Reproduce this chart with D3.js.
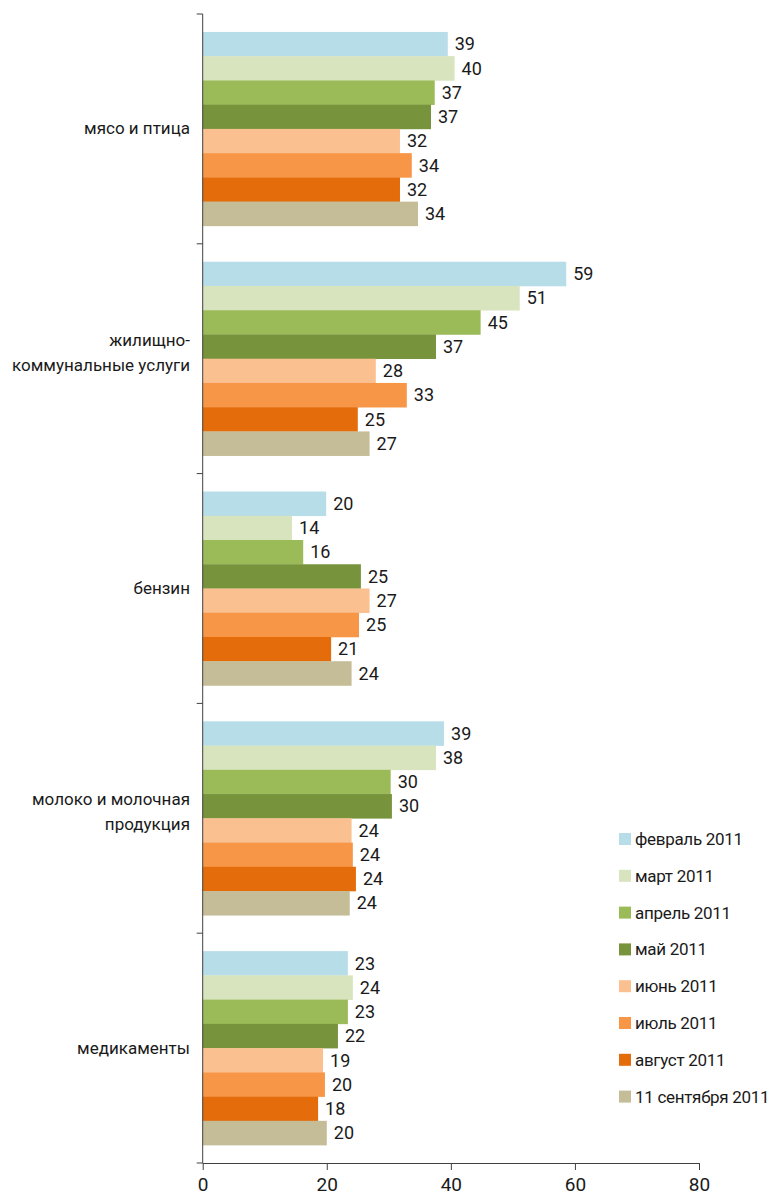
<!DOCTYPE html>
<html>
<head>
<meta charset="utf-8">
<script src="https://cdn.jsdelivr.net/npm/d3@7"></script>
<style>
	body { margin: 0; background: #fff; }
	svg { display: block; font-family: Roboto, 'Liberation Sans', sans-serif; }
	.axis path, .axis line { stroke: #404040; }
</style>
</head>
<body>
<svg width="773" height="1198"></svg>
<script>
'use strict';

// Categories (top to bottom)
const categories = ['мясо и птица', 'жилищно-\nкоммунальные услуги', 'бензин', 'молоко и молочная\nпродукция', 'медикаменты']
// Series (survey months)
const series = ['февраль 2011', 'март 2011', 'апрель 2011', 'май 2011', 'июнь 2011', 'июль 2011', 'август 2011', '11 сентября 2011']
const colors = ['#b7dde8', '#d7e4bd', '#9bbb59', '#77933c', '#fac090', '#f79646', '#e46c0a', '#c4bd97']

// Bar lengths per series, one value per category
const feb = [39.5, 58.6, 19.9, 38.9, 23.4]
const mar = [40.6, 51.1, 14.4, 37.6, 24.2]
const apr = [37.4, 44.8, 16.2, 30.3, 23.4]
const may = [36.8, 37.6, 25.5, 30.5, 21.8]
const jun = [31.8, 27.9, 26.9, 24.0, 19.4]
const jul = [33.7, 32.9, 25.2, 24.2, 19.7]
const aug = [31.8, 25.0, 20.7, 24.7, 18.6]
const sep = [34.7, 26.9, 24.0, 23.7, 20.0]
// Printed labels
const febLbl = [39, 59, 20, 39, 23]
const marLbl = [40, 51, 14, 38, 24]
const aprLbl = [37, 45, 16, 30, 23]
const mayLbl = [37, 37, 25, 30, 22]
const junLbl = [32, 28, 27, 24, 19]
const julLbl = [34, 33, 25, 24, 20]
const augLbl = [32, 25, 21, 24, 18]
const sepLbl = [34, 27, 24, 24, 20]
const xTicks = [0, 20, 40, 60, 80]

const values = [feb, mar, apr, may, jun, jul, aug, sep]
const labels = [febLbl, marLbl, aprLbl, mayLbl, junLbl, julLbl, augLbl, sepLbl]

const svg = d3.select('svg')
const x = d3.scaleLinear().domain([0, 80]).range([202.7, 699])
const y = d3.scaleBand().domain(categories).range([14, 1163])
const yInner = d3.scaleBand().domain(series).range([0, y.bandwidth()]).paddingInner(0).paddingOuter(0.74)

// Bars
const rows = []
categories.forEach((c, ci) => {
	series.forEach((s, si) => {
		rows.push({ cat: c, ser: s, si: si, v: values[si][ci], lbl: labels[si][ci] })
	})
})

const g = svg.append('g')
g.selectAll('rect.bar')
	.data(rows)
	.enter().append('rect')
	.attr('class', 'bar')
	.attr('x', x(0))
	.attr('y', (d) => y(d.cat) + yInner(d.ser))
	.attr('width', (d) => x(d.v) - x(0))
	.attr('height', yInner.bandwidth() + 0.3)
	.attr('fill', (d) => colors[d.si])

g.selectAll('text.val')
	.data(rows)
	.enter().append('text')
	.attr('class', 'val')
	.attr('x', (d) => x(d.v) + 7)
	.attr('y', (d) => y(d.cat) + yInner(d.ser) + yInner.bandwidth() / 2)
	.attr('dy', '0.35em')
	.attr('font-size', 18)
	.attr('fill', '#1a1a1a')
	.text((d) => d.lbl)

// Y axis: ticks at category boundaries
const yAxis = svg.append('g').attr('class', 'axis')
yAxis.append('line')
	.attr('x1', x(0)).attr('x2', x(0))
	.attr('y1', y.range()[0]).attr('y2', y.range()[1])
const bounds = categories.map((c) => y(c)).concat([y.range()[1]])
yAxis.selectAll('line.tick')
	.data(bounds)
	.enter().append('line')
	.attr('class', 'tick')
	.attr('x1', x(0) - 6).attr('x2', x(0))
	.attr('y1', (d) => d).attr('y2', (d) => d)

// Category labels
svg.append('g').selectAll('text')
	.data(categories)
	.enter().append('text')
	.attr('text-anchor', 'end')
	.attr('font-size', 17)
	.attr('fill', '#1a1a1a')
	.each(function(d) {
		const lines = d.split('\n')
		const cy = y(d) + y.bandwidth() / 2
		const t = d3.select(this)
		lines.forEach((ln, i) => {
			const off = lines.length > 1 ? -(lines.length - 1) * 25 / 2 - 6 + i * 25 : 0
			t.append('tspan')
				.attr('x', 190)
				.attr('y', cy + off)
				.attr('dy', '0.32em')
				.text(ln)
		})
	})

// X axis
const xAxis = svg.append('g')
	.attr('class', 'axis')
	.attr('transform', `translate(0,${y.range()[1]})`)
	.call(d3.axisBottom(x).tickValues(xTicks).tickSize(7).tickSizeOuter(0).tickPadding(8))
xAxis.select('.domain').attr('d', `M${x(0)},0.5H${x(80)}`)
xAxis.selectAll('text')
	.attr('font-size', 19)
	.attr('font-family', 'Roboto, sans-serif')
	.attr('fill', '#1a1a1a')

// Legend
const legend = svg.append('g')
	.selectAll('g')
	.data(series)
	.enter().append('g')
	.attr('transform', (d, i) => `translate(619,${839 + i * 36.8})`)
legend.append('rect')
	.attr('x', 0).attr('y', -6)
	.attr('width', 12).attr('height', 12)
	.attr('fill', (d, i) => colors[i])
legend.append('text')
	.attr('x', 16)
	.attr('dy', '0.35em')
	.attr('font-size', 17)
	.attr('letter-spacing', -0.3)
	.attr('fill', '#1a1a1a')
	.text((d) => d)
</script>
</body>
</html>
